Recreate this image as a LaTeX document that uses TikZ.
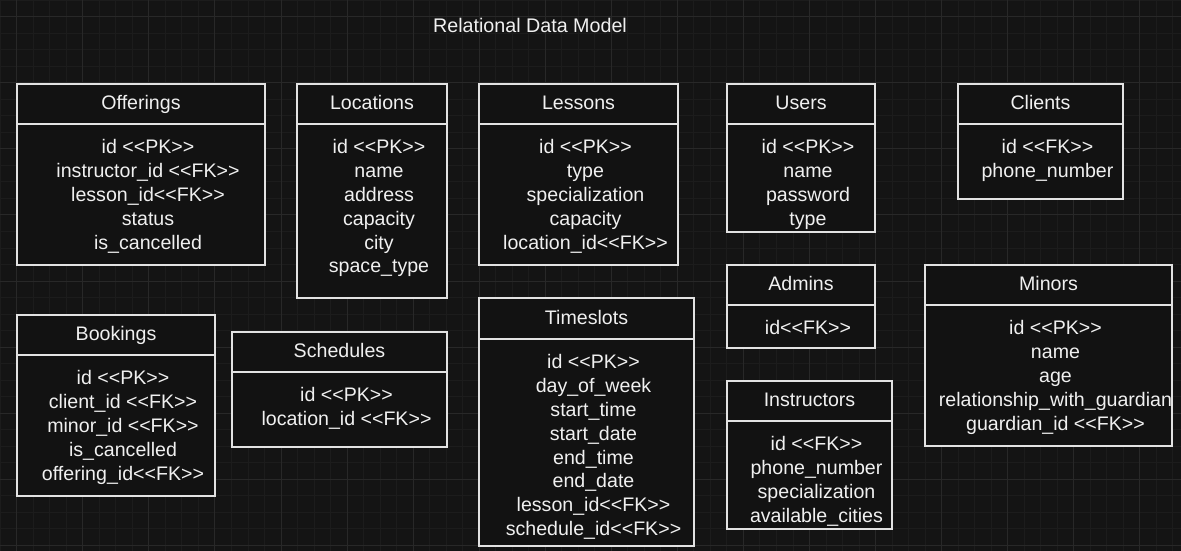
\documentclass[tikz,border=0pt]{standalone}
\usepackage{fontspec}
\setmainfont{Liberation Sans}[Ligatures=TeXOff]
\definecolor{bgc}{HTML}{141414}
\definecolor{minorc}{HTML}{1C1C1C}
\definecolor{majorc}{HTML}{282828}
\definecolor{boxfill}{HTML}{121212}
\definecolor{boxline}{HTML}{E2E2E2}
\definecolor{fgc}{HTML}{F0F0F0}
\newcommand\tsr{\rule{0pt}{15pt}}
\tikzset{
  tblbody/.style={draw=boxline, fill=boxfill, line width=1.3pt, rectangle, inner sep=0pt},
  tblhead/.style={draw=boxline, fill=boxfill, line width=1.3pt, rectangle, inner sep=0pt,
    text=fgc, font=\fontsize{19.6}{23.8}\selectfont, text height=14.5pt, text depth=3pt},
  tblrows/.style={anchor=north, inner sep=0pt, align=center, text=fgc,
    font=\fontsize{19.6}{23.8}\selectfont},
  ttl/.style={anchor=base, inner sep=0pt, text=fgc, font=\fontsize{19.7}{23.8}\selectfont}
}
\newcommand\tbl[8]{%
  \pgfmathsetmacro\tcx{(#2+#4)/2}%
  \pgfmathsetmacro\thy{(#3+#5)/2}%
  \pgfmathsetmacro\tw{#4-#2}%
  \pgfmathsetmacro\thh{#5-#3}%
  \pgfmathsetmacro\tby{(#5+#6)/2}%
  \pgfmathsetmacro\tbh{#6-#5}%
  \pgfmathsetmacro\ttx{\tcx+7}%
  \pgfmathsetmacro\tty{#5+14.6}%
  \node[tblbody, minimum width=\tw pt, minimum height=\tbh pt] (#1-body) at (\tcx,\tby) {};
  \node[tblhead, minimum width=\tw pt, minimum height=\thh pt] (#1-head) at (\tcx,\thy) {#7};
  \node[tblrows] (#1-rows) at (\ttx,\tty) {\tsr #8};
}
\begin{document}
\begin{tikzpicture}[x=1pt,y=-1pt]
\useasboundingbox (0,0) rectangle (1181,551);
\fill[bgc] (0,0) rectangle (1181,551);
% minor grid
\foreach \i in {-1,...,71} {
  \pgfmathsetmacro\gx{16.7+\i*16.515}
  \draw[minorc, line width=0.8pt] (\gx,0) -- (\gx,551);
}
\foreach \j in {-1,...,33} {
  \pgfmathsetmacro\gy{16.7+\j*16.515}
  \draw[minorc, line width=0.8pt] (0,\gy) -- (1181,\gy);
}
% major grid
\foreach \i in {0,4,...,68} {
  \pgfmathsetmacro\gx{16.7+\i*16.515}
  \draw[majorc, line width=0.8pt] (\gx,0) -- (\gx,551);
}
\foreach \j in {0,4,...,32} {
  \pgfmathsetmacro\gy{16.7+\j*16.515}
  \draw[majorc, line width=0.8pt] (0,\gy) -- (1181,\gy);
}
% title
\node[ttl] (title) at (530,32.7) {Relational Data Model};
% tables
\tbl{offerings}{17}{84}{265}{124}{265}{Offerings}{id <<PK>>\\instructor\_id <<FK>>\\lesson\_id<<FK>>\\status\\is\_cancelled}
\tbl{locations}{297}{84}{447}{124}{298}{Locations}{id <<PK>>\\name\\address\\capacity\\city\\space\_type}
\tbl{lessons}{479}{84}{678}{124}{265}{Lessons}{id <<PK>>\\type\\specialization\\capacity\\location\_id<<FK>>}
\tbl{users}{727}{84}{875}{124}{232}{Users}{id <<PK>>\\name\\password\\type}
\tbl{clients}{958}{84}{1123}{124}{199}{Clients}{id <<FK>>\\phone\_number}
\tbl{admins}{727}{265}{875}{305}{348}{Admins}{id<<FK>>}
\tbl{minors}{925}{265}{1172}{305}{446}{Minors}{id <<PK>>\\name\\age\\relationship\_with\_guardian\\guardian\_id <<FK>>}
\tbl{bookings}{17}{315}{215}{355}{496}{Bookings}{id <<PK>>\\client\_id <<FK>>\\minor\_id <<FK>>\\is\_cancelled\\offering\_id<<FK>>}
\tbl{schedules}{232}{332}{447}{372}{447}{Schedules}{id <<PK>>\\location\_id <<FK>>}
\tbl{timeslots}{479}{298}{694}{339}{546}{Timeslots}{id <<PK>>\\day\_of\_week\\start\_time\\start\_date\\end\_time\\end\_date\\lesson\_id<<FK>>\\schedule\_id<<FK>>}
\tbl{instructors}{727}{381}{892}{421}{529}{Instructors}{id <<FK>>\\phone\_number\\specialization\\available\_cities}
\end{tikzpicture}
\end{document}
